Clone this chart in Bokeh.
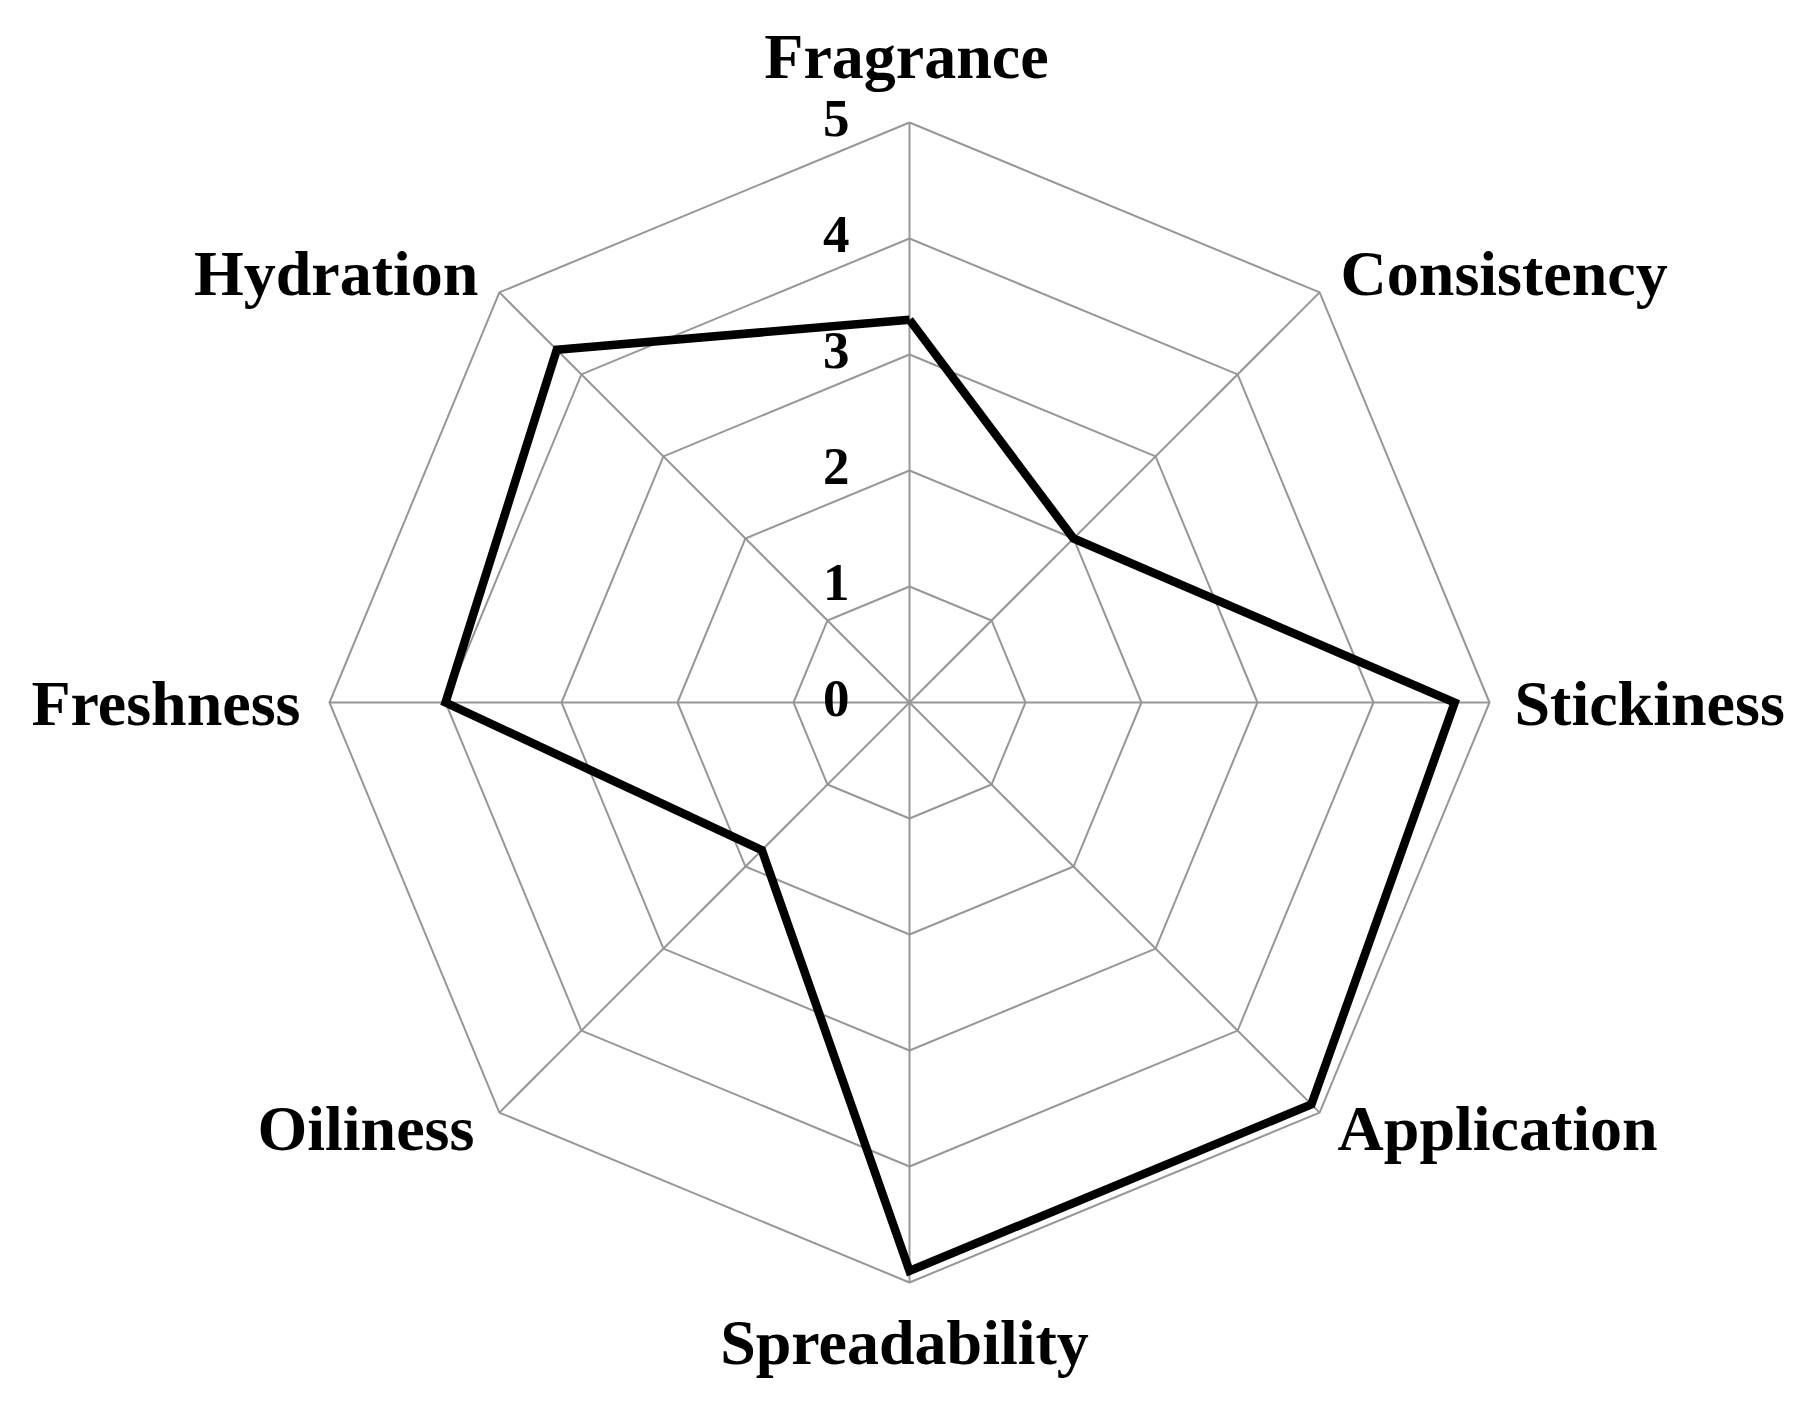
import numpy as np
from bokeh.plotting import figure
from bokeh.models import Range1d, ColumnDataSource
from bokeh.core.properties import value
from bokeh.embed import file_html
from bokeh.resources import INLINE

# Sensory attributes, clockwise from the top
attributes = ["Fragrance", "Consistency", "Stickiness", "Application",
              "Spreadability", "Oiliness", "Freshness", "Hydration"]
scores = [3.3, 2.0, 4.7, 4.9, 4.9, 1.8, 4.0, 4.3]
levels = [0, 1, 2, 3, 4, 5]
level_labels = ["0", "1", "2", "3", "4", "5"]

W, H = 1812, 1401
CX, CY = 909, 702          # centre of the web in screen pixels
UNIT = 116                 # pixels per score unit
r_max = max(levels)

n = len(attributes)
angles = np.pi / 2 - 2 * np.pi * np.arange(n) / n

p = figure(width=W, height=H, output_backend="svg", toolbar_location=None,
           x_range=Range1d(-CX / UNIT, (W - CX) / UNIT),
           y_range=Range1d(-(H - CY) / UNIT, CY / UNIT),
           min_border=0, outline_line_color=None, background_fill_color="white")
p.axis.visible = False
p.grid.visible = False

grid_color = "#979797"

# concentric octagons
for lv in levels[1:]:
    xs = list(lv * np.cos(angles)) + [lv * np.cos(angles[0])]
    ys = list(lv * np.sin(angles)) + [lv * np.sin(angles[0])]
    p.line(xs, ys, line_color=grid_color, line_width=2)

# spokes
p.segment(x0=[0] * n, y0=[0] * n,
          x1=list(r_max * np.cos(angles)), y1=list(r_max * np.sin(angles)),
          line_color=grid_color, line_width=2)

# score polygon
sx = [s * np.cos(a) for s, a in zip(scores, angles)]
sy = [s * np.sin(a) for s, a in zip(scores, angles)]
p.line(sx + [sx[0]], sy + [sy[0]], line_color="black", line_width=8.5,
       line_join="miter")

# level labels along the vertical spoke
p.text(x=[0] * len(levels), y=levels, text=level_labels,
       text_font=value("Liberation Serif"), text_font_style="bold",
       text_font_size="53px", text_color="black",
       text_align="right", text_baseline="alphabetic",
       x_offset=-60, y_offset=-4)

# attribute labels just outside the outer ring
aligns = ["center", "left", "left", "left", "center", "right", "right", "right"]
dx = [-3, 21, 25, 18, -5, -25, -29, -21]
dy = [-66, -19, 1, 16, 60, 16, 1, -19]
src = ColumnDataSource(dict(
    x=list(r_max * np.cos(angles)), y=list(r_max * np.sin(angles)),
    text=attributes, align=aligns, dx=dx, dy=dy))
p.text(x="x", y="y", text="text", source=src,
       text_font=value("Liberation Serif"), text_font_style="bold",
       text_font_size="64px", text_color="black",
       text_align="align", text_baseline="alphabetic",
       x_offset="dx", y_offset="dy")

open("out.html", "w").write(file_html(p, INLINE))
